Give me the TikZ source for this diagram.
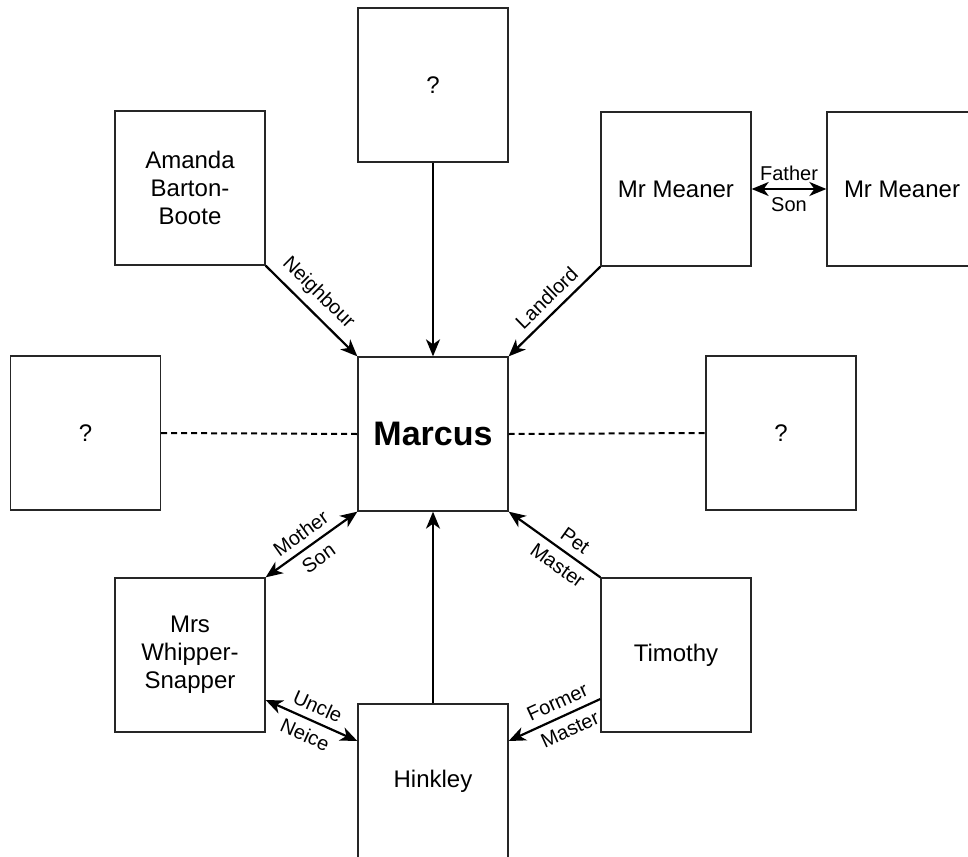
\documentclass[tikz,border=0pt]{standalone}
\usepackage{fontspec}
\setmainfont{Liberation Sans}
\usetikzlibrary{arrows.meta,calc}
\begin{document}
\begin{tikzpicture}[x=1pt,y=-1pt,
  box/.style={draw=black!85,line width=1.3pt,minimum width=150pt,minimum height=154pt,inner sep=0pt,align=center,font=\fontsize{24}{28}\selectfont},
  tip/.style={Stealth[length=17pt,width=14pt,inset=5pt]},
  conn/.style={line width=2.2pt,-{Stealth[length=17pt,width=14pt,inset=5pt]}},
  conn2/.style={line width=2.2pt,{Stealth[length=17pt,width=14pt,inset=5pt]}-{Stealth[length=17pt,width=14pt,inset=5pt]}},
  dash line/.style={line width=2pt,dash pattern=on 6pt off 4pt},
  lab/.style={font=\fontsize{20}{22}\selectfont,sloped,inner sep=2pt},
  up/.style={above=5pt},
  dn/.style={below=5pt}]
\useasboundingbox (0,0) rectangle (968,856);
\node[box] (top) at (433,85) {?};
\node[box] (amanda) at (190,188) {Amanda\\Barton-\\Boote};
\node[box] (meaner1) at (676,189) {Mr Meaner};
\node[box] (meaner2) at (902,189) {Mr Meaner};
\node[box] (left) at (85.5,433) {?};
\node[box,font=\bfseries\fontsize{34}{36}\selectfont] (marcus) at (433,434) {Marcus};
\node[box] (right) at (781,433) {?};
\node[box] (whip) at (190,655) {Mrs\\Whipper-\\Snapper};
\node[box] (tim) at (676,655) {Timothy};
\node[box] (hink) at (433,781) {Hinkley};

\draw[conn] (amanda.south east) -- node[lab,pos=0.44,up]{Neighbour} (marcus.north west);
\draw[conn] (top.south) -- (marcus.north);
\draw[conn] (meaner1.south west) -- node[lab,pos=0.47,up]{Landlord} (marcus.north east);
\draw[conn2] (meaner1.east) -- node[lab,up]{Father} node[lab,dn]{Son} (meaner2.west);
\draw[dash line] (left.east) -- (marcus.west);
\draw[dash line] (marcus.east) -- (right.west);
\draw[conn2] (marcus.south west) -- node[lab,pos=0.52,up]{Mother} node[lab,pos=0.52,dn]{Son} (whip.north east);
\draw[conn] (tim.north west) -- node[lab,pos=0.37,up]{Pet} node[lab,pos=0.37,dn]{Master} (marcus.south east);
\draw[conn] (hink.north) -- (marcus.south);
\draw[conn2] ([yshift=-45pt]whip.east) -- node[lab,up]{Uncle} node[lab,dn]{Neice} ([yshift=40pt]hink.west);
\draw[conn] ([yshift=-44pt]tim.west) -- node[lab,pos=0.4,up]{Former} node[lab,pos=0.4,dn]{Master} ([yshift=40pt]hink.east);
\end{tikzpicture}
\end{document}
